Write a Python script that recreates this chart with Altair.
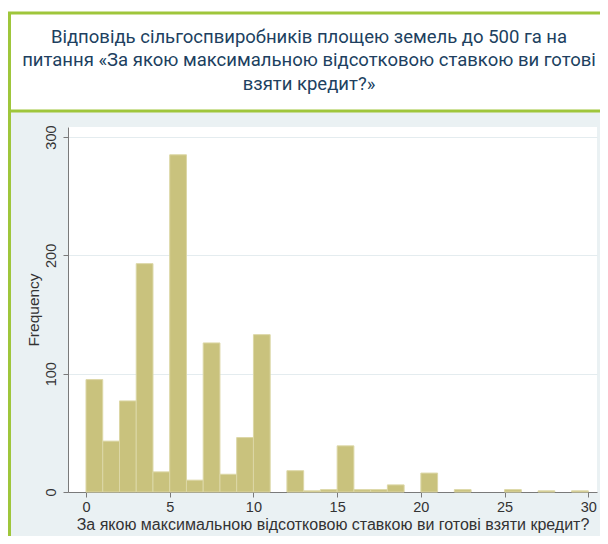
import altair as alt
import pandas as pd

# ---- data ----
bin_start = list(range(30))
counts = [95, 43, 77, 193, 17, 285, 10, 126, 15, 46,
          133, 0, 18, 1, 2, 39, 2, 2, 6, 0,
          16, 0, 2, 0, 0, 2, 0, 1, 0, 1]
bin_width = 1
title_lines = [
    "Відповідь сільгоспвиробників площею земель до 500 га на",
    "питання «За якою максимальною відсотковою ставкою ви готові",
    "взяти кредит?»",
]
x_title = "За якою максимальною відсотковою ставкою ви готові взяти кредит?"
y_title = "Frequency"
x_ticks = [0, 5, 10, 15, 20, 25, 30]
y_ticks = [0, 100, 200, 300]

# ---- styling ----
GREEN = "#9fc63b"
BG = "#eaf1f3"
BAR = "#c9c27d"
BAR_EDGE = "#dcd7a6"
TXT = "#333333"
AX = "#7a7a7a"
FONT = "Liberation Sans"
W, H = 529, 365

df = pd.DataFrame({"start": bin_start, "count": counts})
df["end"] = df["start"] + bin_width
df = df[df["count"] > 0]

x_scale = alt.Scale(domain=[-1.075, 30.52], nice=False, zero=False)
y_scale = alt.Scale(domain=[0, 308.5], nice=False)

bars = alt.Chart(df).mark_rect(color=BAR, stroke=BAR_EDGE, strokeWidth=1).encode(
    x=alt.X("start:Q", scale=x_scale,
            axis=alt.Axis(values=x_ticks, title=x_title, grid=False, tickSize=5,
                          labelPadding=3, labelFlush=False, labelFont=FONT,
                          labelFontSize=14.5, labelColor=TXT, titleFont=FONT,
                          titleFontSize=16, titleFontWeight="normal",
                          titleColor=TXT, titlePadding=3, domainColor=AX,
                          tickColor=AX)),
    x2="end:Q",
    y=alt.Y("count:Q", scale=y_scale,
            axis=alt.Axis(values=y_ticks, title=y_title, grid=True,
                          gridColor="#e4ecef", tickSize=5, labelAngle=270,
                          labelAlign="center", labelBaseline="bottom",
                          labelPadding=5, labelFont=FONT, labelFontSize=14.5,
                          labelColor=TXT, titleFont=FONT, titleFontSize=15.5,
                          titleFontWeight="normal", titleColor=TXT,
                          titlePadding=2, domainColor=AX, tickColor=AX)),
    y2=alt.datum(0),
)

one = pd.DataFrame({"k": [0]})
strip = alt.Chart(one).mark_rect(fill="white", strokeWidth=0).encode(
    x=alt.value(-60), x2=alt.value(545), y=alt.value(-119), y2=alt.value(-112))
box = alt.Chart(one).mark_rect(fill="white", stroke=GREEN, strokeWidth=3).encode(
    x=alt.value(-58.5), x2=alt.value(545), y=alt.value(-114), y2=alt.value(-16))
left = alt.Chart(one).mark_rule(color=GREEN, strokeWidth=3).encode(
    x=alt.value(-58.5), y=alt.value(-114), y2=alt.value(430))

title = alt.Chart(pd.DataFrame({"t": ["\n".join(title_lines)]})).mark_text(
    lineBreak="\n", lineHeight=23.5, font="Roboto", fontSize=18.5,
    color="#203f5f", align="center", baseline="top").encode(
    x=alt.value(241), y=alt.value(-99.5), text="t:N")

chart = alt.layer(strip, box, left, bars, title).properties(
    width=W, height=H,
    padding={"left": 60, "top": 119, "right": 3, "bottom": 44},
    autosize=alt.AutoSizeParams(type="none"),
    background=BG,
).configure_view(fill="white", strokeWidth=0)

chart.save("out.html", embed_options={"renderer": "svg", "actions": False})
